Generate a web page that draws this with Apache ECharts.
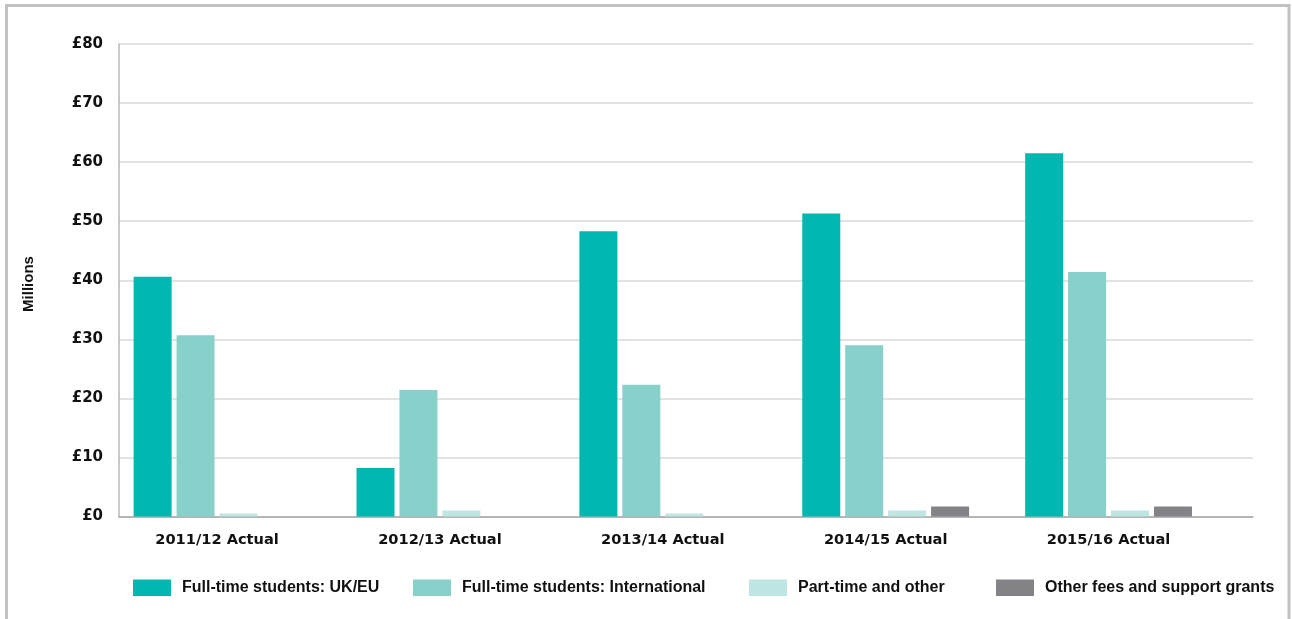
<!DOCTYPE html>
<html>
<head>
<meta charset="utf-8">
<script src="https://cdn.jsdelivr.net/npm/echarts@6/dist/echarts.min.js"></script>
<style>
  html, body { margin: 0; padding: 0; background: #ffffff; }
  #chart { width: 1292px; height: 619px; }
</style>
</head>
<body>
<div id="chart"></div>
<script>
// Fee income by year (£ millions)
const categories = ['2011/12 Actual', '2012/13 Actual', '2013/14 Actual', '2014/15 Actual', '2015/16 Actual'];
const seriesNames = ['Full-time students: UK/EU', 'Full-time students: International', 'Part-time and other', 'Other fees and support grants'];
const ukEu = [40.6, 8.2, 48.3, 51.3, 61.5];
const international = [30.7, 21.4, 22.3, 29.0, 41.4];
const partTime = [0.5, 1.0, 0.5, 1.0, 1.0];
const otherFees = [0, 0, 0, 1.7, 1.7];
const yTicks = [0, 10, 20, 30, 40, 50, 60, 70, 80];

const colors = ['#00b8b0', '#88d0ca', '#c0e6e3', '#838387'];
const seriesData = [ukEu, international, partTime, otherFees];

const chart = echarts.init(document.getElementById('chart'), null, { renderer: 'canvas' });

const labelFont = 'DejaVu Sans';
const legendLefts = [133, 413, 749, 996];

const option = {
  animation: false,
  backgroundColor: '#ffffff',
  grid: [
    // frame for gridlines and the value axis
    { left: 119, right: 39, top: 44, bottom: 102.5 },
    // bar area
    { left: 105.6, right: 72, top: 44, bottom: 102.5 }
  ],
  xAxis: [
    {
      type: 'category', gridIndex: 0, data: categories,
      axisLine: { show: true, lineStyle: { color: '#a6a6a6', width: 1.5 } },
      axisTick: { show: false }, axisLabel: { show: false }, splitLine: { show: false }
    },
    {
      type: 'category', gridIndex: 1, data: categories,
      axisLine: { show: false }, axisTick: { show: false },
      axisLabel: {
        margin: 16, color: '#111111',
        fontFamily: labelFont, fontWeight: 'bold', fontSize: 14.6
      }
    }
  ],
  yAxis: [
    {
      type: 'value', gridIndex: 0, min: yTicks[0], max: yTicks[yTicks.length - 1], interval: 10,
      axisLine: { show: true, lineStyle: { color: '#b8b8b8', width: 1.5 } },
      axisTick: { show: false },
      splitLine: { show: true, lineStyle: { color: '#dadada', width: 1.5 } },
      axisLabel: {
        margin: 16, color: '#111111',
        fontFamily: labelFont, fontWeight: 'bold', fontSize: 15,
        formatter: v => '£' + v
      }
    },
    {
      type: 'value', gridIndex: 1, min: yTicks[0], max: yTicks[yTicks.length - 1], interval: 10,
      show: false
    }
  ],
  legend: seriesNames.map((name, i) => ({
    data: [name],
    left: legendLefts[i], top: 579.5, padding: 0,
    itemWidth: 38, itemHeight: 16.5,
    icon: 'rect',
    textStyle: {
      color: '#111111', fontFamily: 'Liberation Sans', fontWeight: 'bold', fontSize: 16,
      padding: [1, 0, 0, 6]
    }
  })),
  graphic: [
    {
      type: 'rect', silent: true,
      shape: { x: 6.5, y: 5.5, width: 1282.5, height: 700 },
      style: { fill: 'none', stroke: '#c2c2c2', lineWidth: 3 }
    },
    {
      type: 'text', silent: true,
      x: 29, y: 284, rotation: Math.PI / 2,
      style: {
        text: 'Millions', fill: '#111111',
        font: 'bold 15px "Liberation Sans"',
        align: 'center', verticalAlign: 'middle'
      }
    }
  ],
  series: seriesNames.map((name, i) => ({
    name: name,
    type: 'bar',
    xAxisIndex: 1, yAxisIndex: 1,
    data: seriesData[i],
    barWidth: 38,
    barGap: '13%',
    itemStyle: { color: colors[i] }
  }))
};

chart.setOption(option);
</script>
</body>
</html>
